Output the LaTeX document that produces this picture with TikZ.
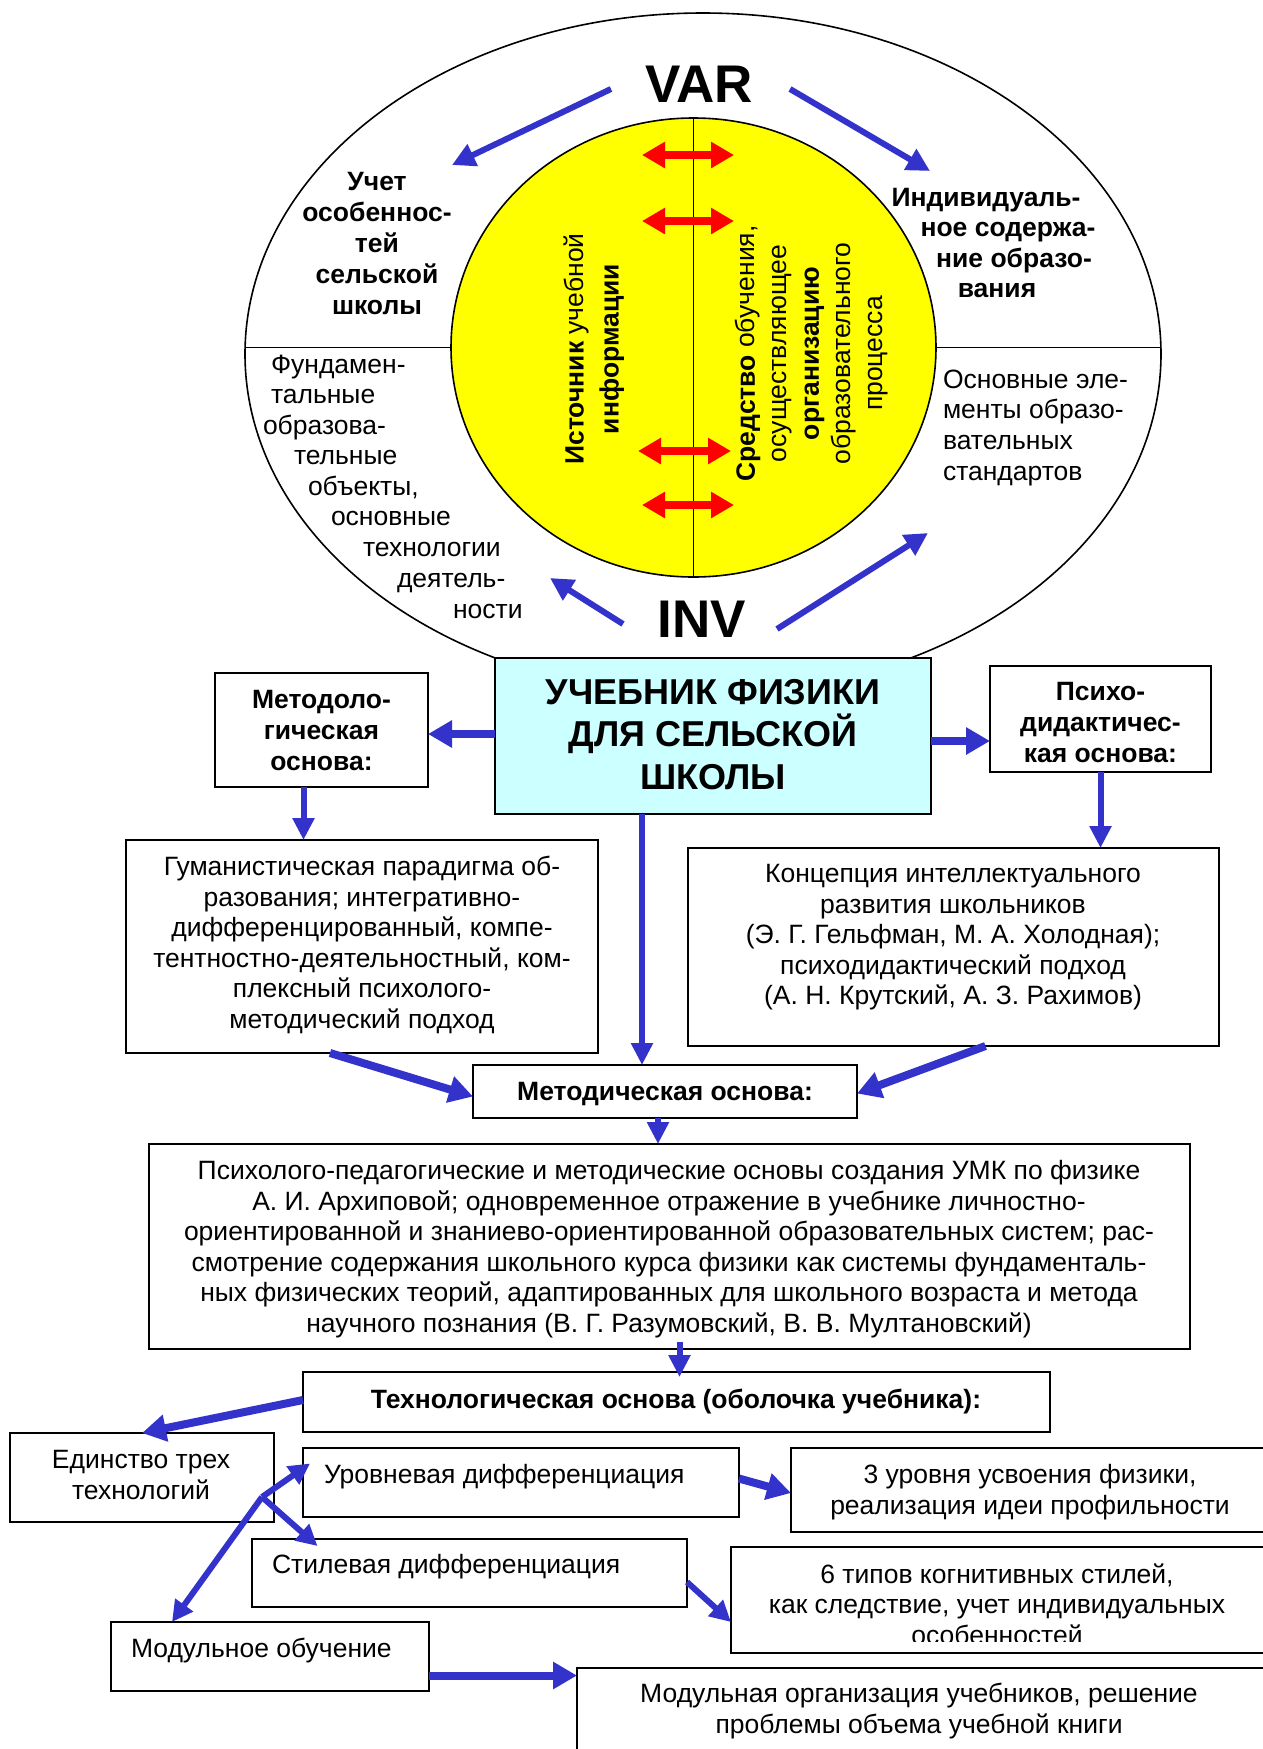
\documentclass[tikz,border=0pt]{standalone}
\usepackage{fontspec}
\setmainfont{Liberation Sans}
\usetikzlibrary{arrows.meta,shapes.geometric}
\definecolor{ablue}{HTML}{3333CC}
\definecolor{lcyan}{HTML}{CCFFFF}
\definecolor{yel}{HTML}{FFFF00}
\newcommand\fsn{\fontsize{26.5pt}{30.5pt}\selectfont}
\newcommand\fsbold{\fontsize{26.5pt}{31pt}\selectfont\bfseries}
\newcommand\fsbig{\fontsize{36pt}{42.5pt}\selectfont\bfseries}
\newcommand\fshuge{\fontsize{53pt}{60pt}\selectfont\bfseries}
\begin{document}
\begin{tikzpicture}[x=1pt,y=-1pt,
  box/.style={draw,line width=1.6pt,inner sep=0pt,outer sep=0pt,anchor=north west},
  txt/.style={inner sep=0pt,outer sep=0pt,align=center,font=\fsn},
  btxt/.style={inner sep=0pt,outer sep=0pt,align=center,font=\fsbold},
  one/.style={inner sep=0pt,outer sep=0pt,font=\fsn,text height=19pt,text depth=5pt},
  bone/.style={inner sep=0pt,outer sep=0pt,font=\fsbold,text height=19pt,text depth=5pt},
  thinarr/.style={draw=ablue,line width=6pt,-{Triangle[length=23pt,width=23pt]}},
  thickarr/.style={draw=ablue,line width=8pt,-{Triangle[length=24pt,width=26pt]}},
  downarr/.style={draw=ablue,line width=6pt,-{Triangle[length=22pt,width=21pt]}},
  redarr/.style={draw=red,line width=8pt,{Triangle[length=23pt,width=25pt]}-{Triangle[length=23pt,width=25pt]}},
  diagarr/.style={draw=ablue,line width=6pt,-{Triangle[length=21pt,width=21pt]}}
]
\useasboundingbox (0,0) rectangle (1262,1749);
\fill[white] (0,0) rectangle (1262,1749);

% ---------------- ellipse part ----------------
\node[ellipse,draw,line width=1.6pt,inner sep=0pt,outer sep=0pt,minimum width=916pt,minimum height=682pt] (outer) at (703,354) {};
\node[ellipse,draw,line width=1.6pt,fill=yel,inner sep=0pt,outer sep=0pt,minimum width=485pt,minimum height=459pt] (inner) at (693.5,347.5) {};
\draw[line width=1.6pt] (outer.west |- inner.west) -- (inner.west);
\draw[line width=1.6pt] (inner.east) -- (outer.east |- inner.east);
\draw[line width=1.6pt] (inner.north) -- (inner.south);

% red double arrows
\coordinate (r1a) at (642,155); \coordinate (r1b) at (734,155);
\coordinate (r2a) at (642,221); \coordinate (r2b) at (734,221);
\coordinate (r3a) at (638,451); \coordinate (r3b) at (731,451);
\coordinate (r4a) at (642,505); \coordinate (r4b) at (734,505);
\draw[redarr] (r1a) -- (r1b);
\draw[redarr] (r2a) -- (r2b);
\draw[redarr] (r3a) -- (r3b);
\draw[redarr] (r4a) -- (r4b);

% rotated texts in circle
\node[inner sep=0pt,align=center,rotate=90,font=\fontsize{26.5pt}{35pt}\selectfont] (src) at (594,349)
  {\textbf{Источник} учебной\\\textbf{информации}};
\node[inner sep=0pt,align=center,rotate=90,font=\fontsize{26.5pt}{32pt}\selectfont] (means) at (812,353.5)
  {\textbf{Средство} обучения,\\осуществляющее\\\textbf{организацию}\\образовательного\\процесса};

% VAR / INV
\node[inner sep=0pt,font=\fshuge] (var) at (699,84) {VAR};
\node[inner sep=0pt,font=\fshuge] (inv) at (702,619) {INV};

% texts in outer ellipse
\node[btxt] (tl) at (377,244) {Учет\\особеннос-\\тей\\сельской\\школы};
\node[bone] (tr1) at (986,199) {Индивидуаль-};
\node[bone] (tr2) at (1008,229) {ное содержа-};
\node[bone] (tr3) at (1014,260) {ние образо-};
\node[bone] (tr4) at (997,290) {вания};
\node[one,anchor=west] (bl1) at (271,366) {Фундамен-};
\node[one,anchor=west] (bl2) at (271,396) {тальные};
\node[one,anchor=west] (bl3) at (263,427) {образова-};
\node[one,anchor=west] (bl4) at (294,457) {тельные};
\node[one,anchor=west] (bl5) at (308,488) {объекты,};
\node[one,anchor=west] (bl6) at (331,518) {основные};
\node[one,anchor=west] (bl7) at (363,549) {технологии};
\node[one,anchor=west] (bl8) at (397,580) {деятель-};
\node[one,anchor=west] (bl9) at (453,611) {ности};
\node[one,anchor=west] (br1) at (943,381) {Основные эле-};
\node[one,anchor=west] (br2) at (943,411) {менты образо-};
\node[one,anchor=west] (br3) at (943,442) {вательных};
\node[one,anchor=west] (br4) at (943,473) {стандартов};

% blue arrows around VAR / INV
\coordinate (vlt) at (452,165);
\coordinate (vrt) at (930,171);
\coordinate (ilt) at (550,578);
\coordinate (irt) at (928,533);
\draw[thinarr] ([xshift=-88pt,yshift=-5pt]var.center) -- (vlt);
\draw[thinarr] ([xshift=91pt,yshift=-5pt]var.center) -- (vrt);
\draw[thinarr] ([xshift=-79pt,yshift=-5pt]inv.center) -- (ilt);
\draw[thinarr] ([xshift=75pt,yshift=-10pt]inv.center) -- (irt);

% ---------------- boxes ----------------
\node[box,fill=lcyan,minimum width=436pt,minimum height=156pt] (main) at (495,658) {};
\node[inner sep=0pt,align=center,font=\fsbig] (maint) at (713,734.5) {УЧЕБНИК ФИЗИКИ\\ДЛЯ СЕЛЬСКОЙ\\ШКОЛЫ};

\node[box,minimum width=213pt,minimum height=114pt] (metl) at (215,673) {};
\node[btxt] (metlt) at (321.5,731) {Методоло-\\гическая\\основа:};

\node[box,minimum width=221pt,minimum height=106pt] (psy) at (990,666) {};
\node[btxt] (psyt) at (1100.5,723) {Психо-\\дидактичес-\\кая основа:};

\node[box,minimum width=472pt,minimum height=213pt] (gum) at (126,840) {};
\node[txt] (gumt) at (362,945) {Гуманистическая парадигма об-\\разования; интегративно-\\дифференцированный, компе-\\тентностно-деятельностный, ком-\\плексный психолого-\\методический подход};

\node[box,minimum width=531pt,minimum height=198pt] (conc) at (688,848) {};
\node[txt] (conct) at (953,937.5) {Концепция интеллектуального\\развития школьников\\(Э. Г. Гельфман, М. А. Холодная);\\психодидактический подход\\(А. Н. Крутский, А. З. Рахимов)};

\node[box,minimum width=384pt,minimum height=53pt] (metod) at (473,1065) {};
\node[bone] (metodt) at (665,1093) {Методическая основа:};

\node[box,minimum width=1041pt,minimum height=205pt] (big) at (149,1144) {};
\node[txt] (bigt) at (669,1249) {Психолого-педагогические и методические основы создания УМК по физике\\А. И. Архиповой; одновременное отражение в учебнике личностно-\\ориентированной и знаниево-ориентированной образовательных систем; рас-\\смотрение содержания школьного курса физики как системы фундаменталь-\\ных физических теорий, адаптированных для школьного возраста и метода\\научного познания (В. Г. Разумовский, В. В. Мултановский)};

\node[box,minimum width=747pt,minimum height=60pt] (tech) at (303,1372) {};
\node[bone] (techt) at (676,1401) {Технологическая основа (оболочка учебника):};

\node[box,minimum width=264pt,minimum height=89pt] (edin) at (10,1433) {};
\node[txt] (edint) at (141,1475) {Единство трех\\технологий};

\node[box,minimum width=436pt,minimum height=69pt] (urov) at (303,1448) {};
\node[one,anchor=west] (urovt) at (324,1476) {Уровневая дифференциация};

\node[box,minimum width=490pt,minimum height=84pt] (lvl3) at (791,1448) {};
\node[txt] (lvl3t) at (1030,1492) {3 уровня усвоения физики,\\реализация идеи профильности};

\node[box,minimum width=435pt,minimum height=68pt] (stil) at (252,1539) {};
\node[one,anchor=west] (stilt) at (272,1566) {Стилевая дифференциация};

\node[box,minimum width=550pt,minimum height=106pt] (six) at (731,1547) {};
\begin{scope}
  \clip (six.north west) rectangle ([yshift=12pt]six.south east);
  \node[txt] (sixt) at (997,1604) {6 типов когнитивных стилей,\\как следствие, учет индивидуальных\\особенностей};
\end{scope}

\node[box,minimum width=318pt,minimum height=69pt] (modl) at (111,1622) {};
\node[one,anchor=west] (modlt) at (131,1650) {Модульное обучение};

\node[box,minimum width=700pt,minimum height=100pt] (modorg) at (577,1668) {};
\node[txt] (modorgt) at (919,1711) {Модульная организация учебников, решение\\проблемы объема учебной книги};

% ---------------- connectors ----------------
\draw[thickarr] ([yshift=2pt]main.west) -- ([yshift=2pt]main.west -| metl.east);
\draw[thickarr] ([yshift=-5pt]main.east) -- ([yshift=-5pt]main.east -| psy.west);
\draw[downarr] ([xshift=-18pt]metl.south) -- ([xshift=-18pt]metl.south |- gum.north);
\draw[downarr] (psy.south) -- (psy.south |- conc.north);
\draw[downarr] ([xshift=-71pt]main.south) -- ([xshift=-71pt]main.south |- metod.north);
\draw[thickarr] ([xshift=-32pt]gum.south) -- ([yshift=-5pt]metod.west);
\draw[thickarr] ([xshift=32pt]conc.south) -- ([yshift=-2pt]metod.east);
\draw[downarr] ([xshift=-7pt]metod.south) -- ([xshift=-7pt]metod.south |- big.north);
\draw[downarr] ([xshift=10pt,yshift=7pt]big.south) -- ([xshift=10pt,yshift=-5pt]big.south |- tech.north);
\draw[thickarr] ([yshift=2pt]tech.west) -- (edin.north);
\draw[thickarr] ([yshift=4pt]urov.east) -- ([yshift=-3pt]lvl3.west);
\draw[diagarr] ([yshift=-9pt]stil.east) -- ([yshift=-22pt]six.west);
\draw[thickarr] ([yshift=-19pt]modl.east) -- ([yshift=-19pt]modl.east -| modorg.west);
\coordinate (jn) at ([xshift=-12pt,yshift=25pt]edin.south east);
\draw[diagarr] (jn) -- ([xshift=7pt,yshift=19pt]urov.west);
\draw[diagarr] (jn) -- ([xshift=-152pt,yshift=-7pt]stil.north);
\draw[diagarr] (jn) -- ([xshift=-98pt]modl.north);
\end{tikzpicture}
\end{document}
